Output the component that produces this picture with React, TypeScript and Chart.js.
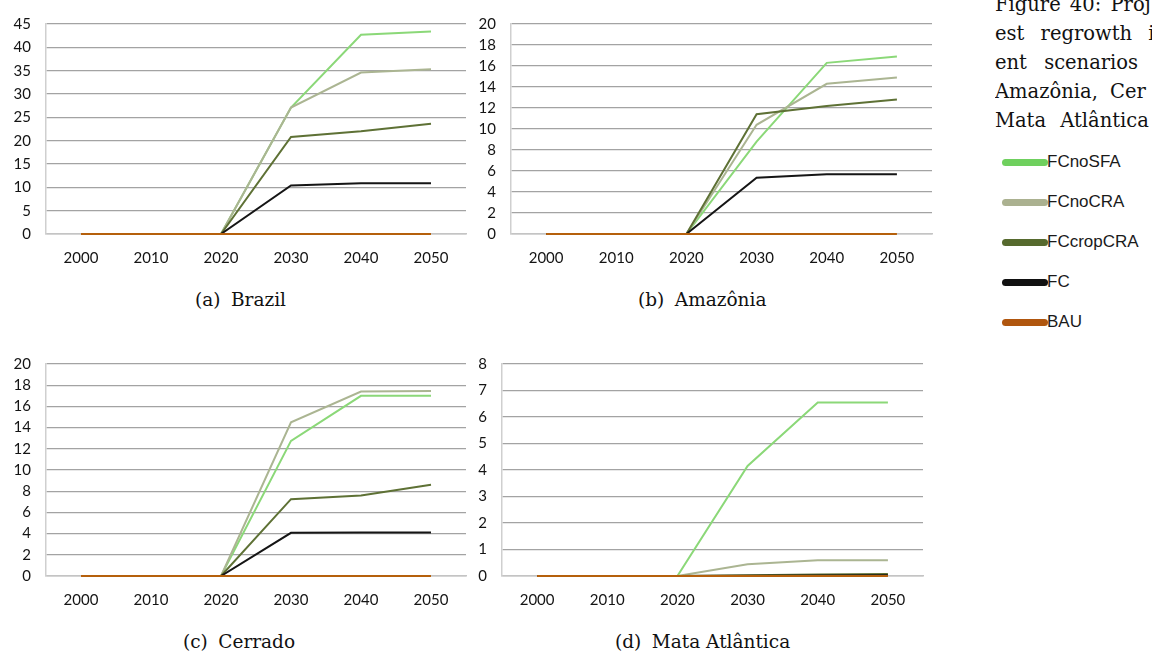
import React, { useEffect, useRef } from "react";
import { Chart, registerables } from "chart.js";

Chart.register(...registerables);

// ---------- DATA ----------
const years = ["2000", "2010", "2020", "2030", "2040", "2050"];
const seriesNames = ["FCnoSFA", "FCnoCRA", "FCcropCRA", "FC", "BAU"];

// (a) Brazil
const brazilFCnoSFA = [0, 0, 0, 27.1, 42.7, 43.4];
const brazilFCnoCRA = [0, 0, 0, 27.1, 34.6, 35.3];
const brazilFCcropCRA = [0, 0, 0, 20.8, 22.0, 23.6];
const brazilFC = [0, 0, 0, 10.4, 10.9, 10.9];
const brazilBAU = [0, 0, 0, 0, 0, 0];

// (b) Amazônia
const amazoniaFCnoSFA = [0, 0, 0, 8.8, 16.3, 16.9];
const amazoniaFCnoCRA = [0, 0, 0, 10.4, 14.3, 14.9];
const amazoniaFCcropCRA = [0, 0, 0, 11.4, 12.2, 12.8];
const amazoniaFC = [0, 0, 0, 5.35, 5.7, 5.7];
const amazoniaBAU = [0, 0, 0, 0, 0, 0];

// (c) Cerrado
const cerradoFCnoSFA = [0, 0, 0, 12.75, 17.0, 17.0];
const cerradoFCnoCRA = [0, 0, 0, 14.5, 17.4, 17.45];
const cerradoFCcropCRA = [0, 0, 0, 7.25, 7.6, 8.6];
const cerradoFC = [0, 0, 0, 4.07, 4.1, 4.1];
const cerradoBAU = [0, 0, 0, 0, 0, 0];

// (d) Mata Atlântica
const mataFCnoSFA = [0, 0, 0, 4.15, 6.55, 6.55];
const mataFCnoCRA = [0, 0, 0, 0.44, 0.59, 0.59];
const mataFCcropCRA = [0, 0, 0, 0.03, 0.06, 0.08];
const mataFC = [0, 0, 0, 0.01, 0.02, 0.03];
const mataBAU = [0, 0, 0, 0, 0, 0];

// y-axis ranges
const brazilMax = 45;
const brazilStep = 5;
const amazoniaMax = 20;
const amazoniaStep = 2;
const cerradoMax = 20;
const cerradoStep = 2;
const mataMax = 8;
const mataStep = 1;

// captions
const captionLines = ["Figure 40: Proj", "est regrowth i", "ent scenarios", "Amazônia, Cer", "Mata Atlântica"];

// ---------- STYLE ----------
const lineColors = ["#8bd878", "#abb592", "#5e7135", "#151515", "#b5600c"];
const legendColors = ["#6fd05e", "#abb190", "#566a2e", "#111111", "#b0560e"];
const lineOrder = [4, 3, 2, 1, 0];
const wordSpacings = [3, 10, 11, 6, 8];

type PanelProps = {
  left: number;
  top: number;
  width: number;
  height: number;
  yAxisWidth: number;
  xAxisHeight: number;
  padTop: number;
  padRight: number;
  max: number;
  step: number;
  series: number[][];
};

function Panel(p: PanelProps) {
  const ref = useRef<HTMLCanvasElement | null>(null);
  useEffect(() => {
    if (!ref.current) return;
    const tickFont = { family: "Lato", size: 15 };
    const chart = new Chart(ref.current, {
      type: "line",
      data: {
        labels: years,
        datasets: p.series.map((d, i) => ({
          label: seriesNames[i],
          data: d,
          borderColor: lineColors[i],
          backgroundColor: lineColors[i],
          borderWidth: 2,
          pointRadius: 0,
          tension: 0,
          fill: false,
          clip: false,
          order: lineOrder[i],
        })),
      },
      options: {
        animation: false,
        responsive: false,
        maintainAspectRatio: false,
        layout: { padding: { top: p.padTop, right: p.padRight, left: 0, bottom: 0 } },
        plugins: { legend: { display: false }, tooltip: { enabled: false }, title: { display: false } },
        scales: {
          x: {
            offset: true,
            grid: { display: false, drawTicks: false },
            border: { display: true, color: "#c4c4c4", width: 1.5 },
            ticks: { color: "#141414", font: tickFont, padding: 15, maxRotation: 0, autoSkip: false },
            afterFit: (s: any) => {
              s.height = p.xAxisHeight;
            },
          },
          y: {
            min: 0,
            max: p.max,
            ticks: { stepSize: p.step, color: "#141414", font: tickFont, padding: 15 },
            grid: { color: "#a3a3a3", lineWidth: 1.3, drawTicks: false },
            border: { display: true, color: "#cfcfcf", width: 1.5 },
            afterFit: (s: any) => {
              s.width = p.yAxisWidth;
            },
          },
        },
      },
    });
    return () => chart.destroy();
  }, []);
  return (
    <canvas
      ref={ref}
      width={p.width}
      height={p.height}
      style={{ position: "absolute", left: p.left, top: p.top, width: p.width, height: p.height }}
    />
  );
}

function SubCaption({ left, center, label, name }: { left: number; center: number; label: string; name: string }) {
  return (
    <div
      style={{
        position: "absolute",
        left,
        top: center - 11,
        font: '18.5px "DejaVu Serif"',
        lineHeight: "22px",
        whiteSpace: "nowrap",
        color: "#111",
      }}
    >
      {label}
      <span style={{ marginLeft: 10.5 }}>{name}</span>
    </div>
  );
}

export default function App() {
  return (
    <div
      style={{
        position: "absolute",
        left: 0,
        top: 0,
        width: 1152,
        height: 653,
        overflow: "hidden",
        background: "#ffffff",
      }}
    >
      <Panel
        left={0}
        top={0}
        width={470}
        height={270}
        yAxisWidth={46}
        xAxisHeight={36}
        padTop={19}
        padRight={4}
        max={brazilMax}
        step={brazilStep}
        series={[brazilFCnoSFA, brazilFCnoCRA, brazilFCcropCRA, brazilFC, brazilBAU]}
      />
      <Panel
        left={470}
        top={0}
        width={470}
        height={270}
        yAxisWidth={41}
        xAxisHeight={36}
        padTop={19}
        padRight={8}
        max={amazoniaMax}
        step={amazoniaStep}
        series={[amazoniaFCnoSFA, amazoniaFCnoCRA, amazoniaFCcropCRA, amazoniaFC, amazoniaBAU]}
      />
      <Panel
        left={0}
        top={340}
        width={470}
        height={270}
        yAxisWidth={46}
        xAxisHeight={34}
        padTop={20}
        padRight={4}
        max={cerradoMax}
        step={cerradoStep}
        series={[cerradoFCnoSFA, cerradoFCnoCRA, cerradoFCcropCRA, cerradoFC, cerradoBAU]}
      />
      <Panel
        left={470}
        top={340}
        width={470}
        height={270}
        yAxisWidth={32}
        xAxisHeight={34}
        padTop={20}
        padRight={17}
        max={mataMax}
        step={mataStep}
        series={[mataFCnoSFA, mataFCnoCRA, mataFCcropCRA, mataFC, mataBAU]}
      />

      <SubCaption left={195} center={300} label="(a)" name="Brazil" />
      <SubCaption left={638} center={300} label="(b)" name="Amazônia" />
      <SubCaption left={183} center={642} label="(c)" name="Cerrado" />
      <SubCaption left={615} center={642} label="(d)" name="Mata Atlântica" />

      <div
        style={{
          position: "absolute",
          left: 995,
          top: -10,
          width: 157,
          overflow: "hidden",
          font: '19.5px "DejaVu Serif"',
          lineHeight: "29px",
          color: "#111",
        }}
      >
        {captionLines.map((t, i) => (
          <div key={i} style={{ whiteSpace: "nowrap", wordSpacing: wordSpacings[i] }}>
            {t}
          </div>
        ))}
      </div>

      {seriesNames.map((n, i) => (
        <div key={n} style={{ position: "absolute", left: 1002, top: 162 + i * 40 - 12, height: 24, width: 150 }}>
          <div
            style={{
              position: "absolute",
              left: 0,
              top: 8.5,
              width: 46,
              height: 7,
              borderRadius: 3.5,
              background: legendColors[i],
            }}
          />
          <div
            style={{
              position: "absolute",
              left: 45,
              top: 0,
              font: '17px "Liberation Sans"',
              lineHeight: "24px",
              color: "#1a1a1a",
              whiteSpace: "nowrap",
            }}
          >
            {n}
          </div>
        </div>
      ))}
    </div>
  );
}
